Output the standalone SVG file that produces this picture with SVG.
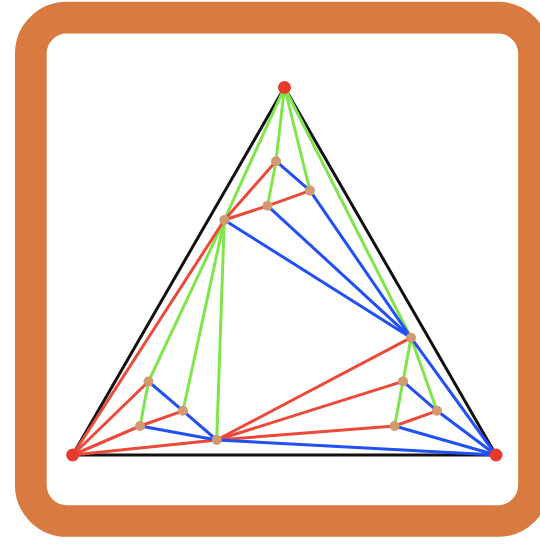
<svg xmlns="http://www.w3.org/2000/svg" width="540" height="544" viewBox="0 0 540 544">
<style>
.g{stroke:#7fe54a;stroke-width:3;stroke-linecap:round}
.r{stroke:#ea4a3a;stroke-width:3;stroke-linecap:round}
.b{stroke:#2150f5;stroke-width:3;stroke-linecap:round}
.k{stroke:#111;stroke-width:3;fill:none;stroke-linejoin:round}
.v{fill:#e83a2a}
.p{fill:#d29a70}
</style>
<rect width="540" height="544" fill="#fff"/>
<rect id="frame" x="30.8" y="17.7" width="503.2" height="503.3" rx="36" fill="#fff" stroke="#d97b40" stroke-width="31.7"/>
<g id="outer-triangle">
<polygon class="k" points="284.5,87.5 72.7,455 496,455"/>
</g>
<g id="connectors">
<!-- green -->
<line class="g" x1="284.5" y1="87.5" x2="224.3" y2="220"/>
<line class="g" x1="284.5" y1="87.5" x2="276" y2="161.2"/>
<line class="g" x1="284.5" y1="87.5" x2="310" y2="190.6"/>
<line class="g" x1="284.5" y1="87.5" x2="411" y2="337.7"/>
<line class="g" x1="267.6" y1="205.8" x2="276" y2="161.2"/>
<line class="g" x1="148.5" y1="381.5" x2="224.3" y2="220"/>
<line class="g" x1="183" y1="410.8" x2="224.3" y2="220"/>
<line class="g" x1="216.7" y1="440" x2="224.3" y2="220"/>
<line class="g" x1="140.1" y1="426" x2="148.5" y2="381.5"/>
<line class="g" x1="403" y1="381.4" x2="411" y2="337.7"/>
<line class="g" x1="437" y1="410.8" x2="411" y2="337.7"/>
<line class="g" x1="394.6" y1="426" x2="403" y2="381.4"/>
<!-- red -->
<line class="r" x1="72.7" y1="455" x2="224.3" y2="220"/>
<line class="r" x1="72.7" y1="455" x2="148.5" y2="381.5"/>
<line class="r" x1="72.7" y1="455" x2="140.1" y2="426"/>
<line class="r" x1="72.7" y1="455" x2="216.7" y2="440"/>
<line class="r" x1="276" y1="161.2" x2="224.3" y2="220"/>
<line class="r" x1="267.6" y1="205.8" x2="224.3" y2="220"/>
<line class="r" x1="310" y1="190.6" x2="267.6" y2="205.8"/>
<line class="r" x1="183" y1="410.8" x2="140.1" y2="426"/>
<line class="r" x1="411" y1="337.7" x2="216.7" y2="440"/>
<line class="r" x1="403" y1="381.4" x2="216.7" y2="440"/>
<line class="r" x1="394.6" y1="426" x2="216.7" y2="440"/>
<line class="r" x1="437" y1="410.8" x2="394.6" y2="426"/>
<!-- blue -->
<line class="b" x1="276" y1="161.2" x2="310" y2="190.6"/>
<line class="b" x1="310" y1="190.6" x2="411" y2="337.7"/>
<line class="b" x1="267.6" y1="205.8" x2="411" y2="337.7"/>
<line class="b" x1="224.3" y1="220" x2="411" y2="337.7"/>
<line class="b" x1="148.5" y1="381.5" x2="183" y2="410.8"/>
<line class="b" x1="183" y1="410.8" x2="216.7" y2="440"/>
<line class="b" x1="140.1" y1="426" x2="216.7" y2="440"/>
<line class="b" x1="411" y1="337.7" x2="496" y2="455"/>
<line class="b" x1="403" y1="381.4" x2="437" y2="410.8"/>
<line class="b" x1="437" y1="410.8" x2="496" y2="455"/>
<line class="b" x1="394.6" y1="426" x2="496" y2="455"/>
<line class="b" x1="216.7" y1="440" x2="496" y2="455"/>
</g>
<g id="vertex-A"><circle class="v" cx="284.5" cy="87.5" r="6.5"/></g>
<g id="vertex-B"><circle class="v" cx="72.7" cy="455" r="6.5"/></g>
<g id="vertex-C"><circle class="v" cx="496" cy="455" r="6.5"/></g>
<g id="node-P1"><circle class="p" cx="276" cy="161.2" r="5"/></g>
<g id="node-P2"><circle class="p" cx="310" cy="190.6" r="5"/></g>
<g id="node-P3"><circle class="p" cx="267.6" cy="205.8" r="5"/></g>
<g id="node-P4"><circle class="p" cx="224.3" cy="220" r="5"/></g>
<g id="node-Q1"><circle class="p" cx="148.5" cy="381.5" r="5"/></g>
<g id="node-Q2"><circle class="p" cx="183" cy="410.8" r="5"/></g>
<g id="node-Q3"><circle class="p" cx="140.1" cy="426" r="5"/></g>
<g id="node-Q4"><circle class="p" cx="216.7" cy="440" r="5"/></g>
<g id="node-R1"><circle class="p" cx="411" cy="337.7" r="5"/></g>
<g id="node-R2"><circle class="p" cx="403" cy="381.4" r="5"/></g>
<g id="node-R3"><circle class="p" cx="437" cy="410.8" r="5"/></g>
<g id="node-R4"><circle class="p" cx="394.6" cy="426" r="5"/></g>
</svg>
